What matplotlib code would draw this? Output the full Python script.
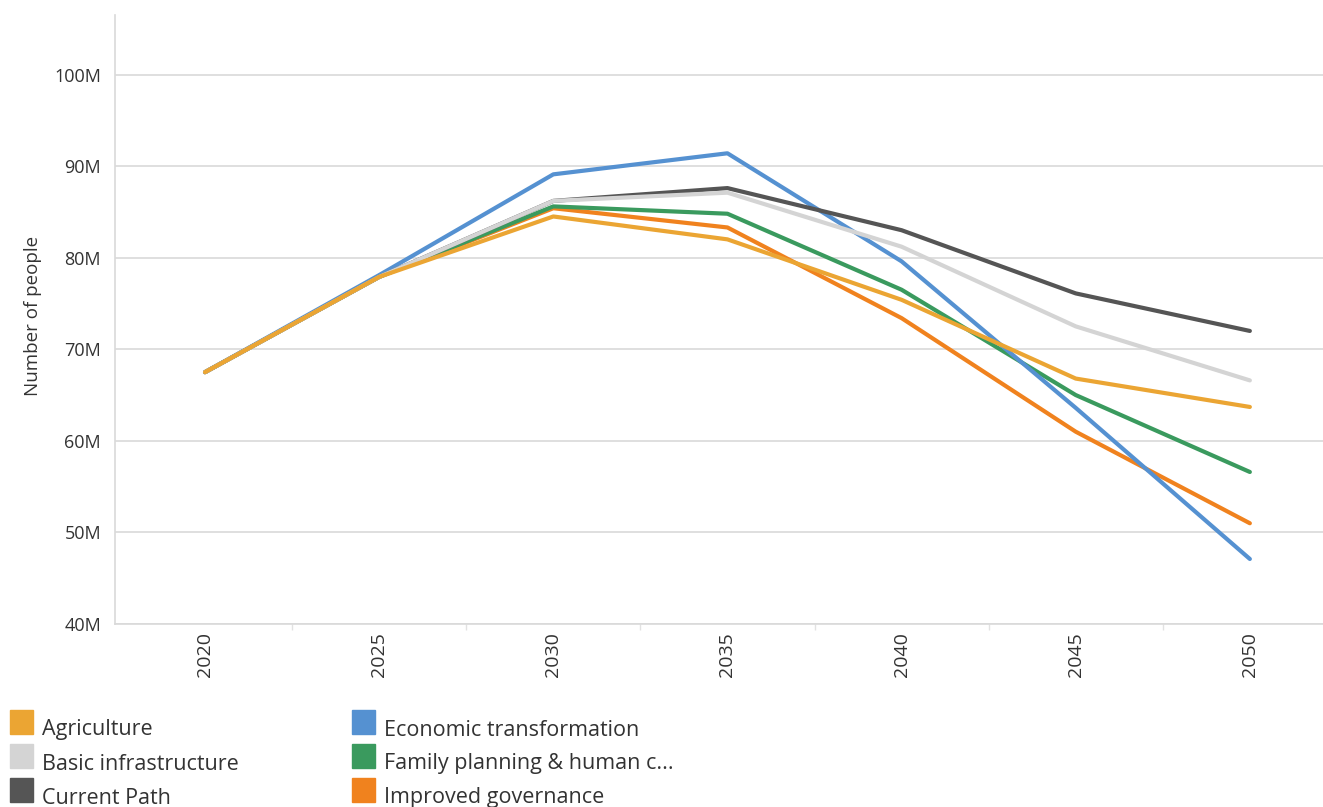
import matplotlib
matplotlib.use("Agg")
import matplotlib.pyplot as plt
from matplotlib.patches import Rectangle
from matplotlib.ticker import FuncFormatter

plt.rcParams["font.family"] = ["Open Sans", "DejaVu Sans"]

# data (millions of people)
years = ["2020", "2025", "2030", "2035", "2040", "2045", "2050"]
series_names = ["Agriculture", "Basic infrastructure", "Current Path",
                "Economic transformation", "Family planning & human c...",
                "Improved governance"]
agriculture = [67.5, 77.9, 84.5, 82.0, 75.4, 66.8, 63.7]
basic_infra = [67.5, 77.9, 86.2, 87.1, 81.2, 72.5, 66.6]
current_path = [67.5, 77.9, 86.2, 87.6, 83.0, 76.1, 72.0]
economic = [67.5, 78.1, 89.1, 91.4, 79.6, 63.6, 47.1]
family_planning = [67.5, 77.9, 85.6, 84.8, 76.5, 65.0, 56.6]
governance = [67.5, 77.9, 85.4, 83.3, 73.4, 61.0, 51.0]
colors = ["#EBA533", "#D4D4D4", "#555555", "#5591D1", "#3A9A5E", "#F0821E"]
values = [agriculture, basic_infra, current_path, economic, family_planning, governance]

W, H = 1323, 807
fig = plt.figure(figsize=(W / 100, H / 100), dpi=100)
ax = fig.add_axes([115 / W, 1 - 624 / H, (W - 115) / W, (624 - 15) / H])

x = list(range(len(years)))
# draw last legend entry first so Agriculture ends on top
for name, vals, c in reversed(list(zip(series_names, values, colors))):
    ax.plot(x, vals, color=c, lw=3.0, solid_joinstyle="round", solid_capstyle="round", zorder=3)

ax.set_yticks([40, 50, 60, 70, 80, 90, 100])
ax.yaxis.set_major_formatter(FuncFormatter(lambda v, p: f"{int(v)}M"))
ax.set_xticks(x)
ax.set_xticklabels(years, rotation=90)
ax.set_xticks([i + 0.5 for i in range(0, 6)], minor=True)
# limits after ticks, set_xticks would widen them
ax.set_xlim(-0.517, 6.42)
ax.set_ylim(40, 106.5)

ax.grid(axis="y", color="#D9D9D9", lw=1.2, zorder=0)
for s in ["top", "right"]:
    ax.spines[s].set_visible(False)
for s in ["left", "bottom"]:
    ax.spines[s].set_color("#D9D9D9")
    ax.spines[s].set_linewidth(1.2)

ax.tick_params(axis="y", length=0, pad=10, labelsize=13, labelcolor="#333333")
ax.tick_params(axis="x", which="major", length=0, pad=6, labelsize=14, labelcolor="#333333")
ax.tick_params(axis="x", which="minor", length=4, color="#E2E2E2", width=1.0)

fig.text(33 / W, 1 - 316 / H, "Number of people", rotation=90, ha="center", va="center",
         fontsize=13.5, color="#333333")

# legend, two columns
for i, (name, c) in enumerate(zip(series_names, colors)):
    col, row = divmod(i, 3)
    px = [10, 352][col]
    py = 710 + row * 34
    fig.patches.append(Rectangle((px / W, 1 - (py + 24) / H), 23 / W, 24 / H,
                                 transform=fig.transFigure, color=c))
    fig.text((px + 32) / W, 1 - (py + 20) / H, name, ha="left", va="center",
             fontsize=15.5, color="#333333")

fig.savefig("out.png", dpi=100)
